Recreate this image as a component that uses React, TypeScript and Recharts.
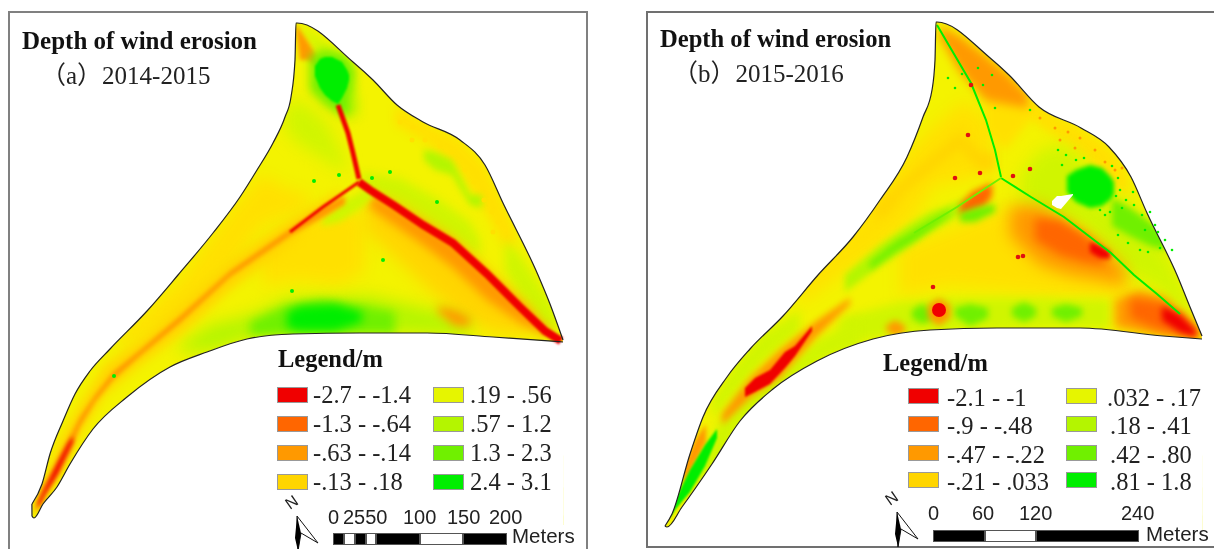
import React from "react"
import { Area, ComposedChart, Line, Scatter, XAxis, YAxis } from "recharts"

type Row = [number, number, number]
type Pt = [number, number]

const classColors = ["#f00000", "#ff6600", "#ff9900", "#ffd500", "#e6f500", "#b4f500", "#70f000", "#00ee00"]
const [RED, ORANGE_RED, ORANGE, GOLD, , LIME, LIGHT_GREEN, GREEN] = classColors
// the map raster sits a little brighter than the legend swatches
const BASE = "#f4f300"
const SOFT_GOLD = "#ffe000"
const SOFT_LIME = "#d0f500"

const legendA = ["-2.7 - -1.4", "-1.3 - -.64", "-.63 - -.14", "-.13 - .18", ".19 - .56", ".57 - 1.2", "1.3 - 2.3", "2.4 - 3.1"]
const legendB = ["-2.1 - -1", "-.9 - -.48", "-.47 - -.22", "-.21 - .033", ".032 - .17", ".18 - .41", ".42 - .80", ".81 - 1.8"]

// outlines in image pixels
const aUpper: Pt[] = [[32, 504], [42, 484], [50, 454], [63, 421], [75, 394], [90, 371], [110, 349], [147, 311], [178, 275], [213, 233], [240, 197], [257, 170], [273, 143], [285, 117], [291, 97], [295, 60], [296, 23], [297, 23], [353, 62], [373, 80], [397, 105], [423, 122], [460, 140], [485, 165], [503, 203], [538, 275], [550, 304], [563, 340]]
const aLower: Pt[] = [[31.9, 504], [32, 516], [34, 518], [43, 504], [57, 487], [70, 464], [93, 429], [127, 397], [170, 367], [207, 352], [247, 339], [293, 334], [360, 333], [427, 333], [493, 337], [563, 342]]
const bUpper: Pt[] = [[665, 526], [672, 514], [690, 454], [703, 417], [727, 377], [750, 349], [783, 316], [818, 275], [853, 237], [880, 200], [907, 157], [923, 117], [932, 90], [935, 60], [936, 22], [937, 22], [989, 57], [1009, 75], [1039, 107], [1081, 128], [1109, 147], [1131, 177], [1147, 213], [1177, 275], [1190, 307], [1202, 336]]
const bLower: Pt[] = [[664.9, 526], [667, 527], [682, 507], [712, 464], [740, 421], [773, 389], [817, 361], [873, 339], [930, 330], [997, 328], [1080, 328], [1163, 336], [1202, 339]]

// panel a patches: x, upper y, lower y
const aBase: Row[] = [[28, 20, 525], [566, 20, 525]]
const aWestGold: Row[] = [[120, 335, 350], [180, 280, 315], [235, 205, 262], [262, 175, 225], [290, 190, 215], [310, 195, 205]]
const aWestLime: Row[] = [[285, 105, 130], [300, 100, 145], [325, 120, 160], [345, 160, 174]]
const aTipOrange: Row[] = [[296, 24, 30], [300, 30, 60], [308, 42, 60], [316, 55, 65]]
const aTipLime: Row[] = [[300, 26, 30], [320, 38, 55], [350, 62, 100], [360, 100, 122]]
const aNeGold: Row[] = [[395, 106, 125], [423, 122, 140], [460, 140, 172], [485, 165, 212], [503, 203, 245], [515, 230, 250]]
const aNeLime: Row[] = [[424, 150, 160], [435, 152, 170], [452, 160, 175], [470, 195, 205], [482, 195, 208]]
const aEastLime: Row[] = [[362, 172, 182], [400, 178, 210], [440, 200, 234], [470, 222, 250], [480, 240, 258]]
const aTipGreen: Row[] = [[505, 240, 270], [520, 255, 298], [540, 285, 322], [556, 312, 336]]
const aSouthOrange: Row[] = [[365, 195, 230], [400, 205, 262], [430, 225, 290], [465, 250, 320], [495, 280, 332], [530, 310, 336]]
const aDeepOrange: Row[] = [[370, 192, 208], [423, 222, 245], [453, 240, 268], [487, 272, 300], [525, 305, 326], [550, 330, 338]]
const aMidGold: Row[] = [[262, 245, 285], [300, 222, 280], [340, 208, 285], [365, 218, 270]]
const aMidLime: Row[] = [[322, 218, 226], [340, 203, 222], [365, 190, 205], [373, 186, 196]]
const aBottomLime: Row[] = [[180, 345, 352], [210, 325, 351], [250, 315, 338], [290, 298, 334], [370, 296, 333], [410, 305, 333], [440, 312, 334], [470, 322, 336]]
const aBottomGreen: Row[] = [[250, 322, 335], [285, 306, 334], [320, 300, 333], [365, 306, 333], [395, 312, 333]]
const aBottomCore: Row[] = [[287, 312, 328], [300, 306, 331], [335, 304, 331], [362, 312, 322]]
const aBottomSpot: Row[] = [[438, 306, 312], [455, 310, 326], [470, 318, 326]]
const aBlob: Row[] = [[315, 66, 76], [320, 59, 88], [325, 57, 95], [332, 57, 101], [338, 60, 104], [342, 62, 98], [347, 70, 88], [349, 75, 80]]
const aBlobHalo: Row[] = [[310, 55, 90], [325, 50, 105], [345, 55, 118], [355, 70, 100], [350, 105, 125]]
const aStripGold: Row[] = [[35, 505, 516], [45, 480, 500], [60, 440, 475], [80, 405, 435], [105, 365, 395], [140, 340, 365], [180, 305, 335], [230, 260, 290], [290, 220, 245], [340, 190, 200]]
const aStripOrange: Row[] = [[35, 507, 514], [43, 487, 497], [55, 465, 480], [70, 436, 452], [80, 417, 427], [95, 395, 402], [113, 372, 380], [140, 350, 356], [180, 316, 323], [230, 271, 277], [290, 229, 236], [325, 205, 216], [345, 196, 204]]
const aStripRed: Row[] = [[38, 502, 509], [46, 486, 493], [58, 462, 473], [68, 443, 452], [73, 436, 442]]

const aNorthRed: Pt[] = [[338, 105], [348, 133], [353, 153], [359, 179]]
const aEastRed: Pt[] = [[359, 182], [370, 190], [395, 206], [423, 225], [453, 243], [487, 274], [520, 307], [545, 331], [561, 341]]
const aWestRed: Pt[] = [[359, 182], [323, 207], [290, 232]]
const aGreenDots: Pt[] = [[383, 260], [314, 181], [339, 175], [372, 178], [390, 172], [292, 291], [114, 376], [437, 202]]
const aGoldDots: Pt[] = [[400, 122], [413, 127], [425, 140], [440, 146], [452, 152], [465, 170], [474, 182], [484, 200], [492, 212], [498, 222], [493, 232], [412, 140]]

// panel b patches
const bBase: Row[] = [[662, 20, 530], [1206, 20, 530]]
const bWestGold: Row[] = [[800, 285, 305], [840, 240, 275], [875, 195, 250], [910, 150, 222], [935, 125, 185], [965, 100, 180], [990, 125, 170]]
const bWestOrange: Row[] = [[875, 205, 222], [890, 192, 212], [905, 178, 192], [960, 132, 148], [980, 152, 172], [995, 152, 170]]
const bTipOrange: Row[] = [[940, 26, 38], [960, 36, 72], [985, 55, 100], [1010, 76, 105], [1028, 95, 108]]
const bTipGold: Row[] = [[985, 90, 130], [1005, 95, 150], [1030, 100, 120], [1050, 112, 125]]
const bEdgeGold: Row[] = [[1040, 108, 125], [1081, 128, 155], [1109, 147, 178], [1128, 175, 200]]
const bLimeHalo: Row[] = [[1020, 175, 200], [1040, 150, 214], [1060, 145, 222], [1080, 155, 225], [1100, 205, 245], [1120, 195, 270], [1160, 240, 290], [1190, 300, 322]]
const bSprayGreen: Row[] = [[1112, 198, 226], [1130, 208, 236], [1150, 222, 246], [1166, 236, 250]]
const bBlob: Row[] = [[1067, 176, 192], [1076, 170, 202], [1090, 165, 208], [1102, 168, 206], [1110, 176, 200], [1114, 182, 194]]
const bSpokeLime: Row[] = [[845, 275, 292], [880, 245, 266], [910, 224, 246], [930, 212, 232], [952, 204, 220], [968, 198, 206]]
const bSpokeGreen: Row[] = [[870, 262, 270], [895, 242, 252], [915, 230, 240], [935, 218, 226], [950, 210, 214]]
const bJunctionOrange: Row[] = [[960, 205, 215], [972, 192, 212], [985, 186, 206], [992, 183, 196]]
const bSouthGold: Row[] = [[900, 250, 295], [950, 230, 285], [1000, 210, 290], [1050, 215, 295], [1110, 258, 295], [1130, 280, 298]]
const bSouthLime: Row[] = [[960, 213, 222], [975, 208, 222], [995, 204, 212]]
const bBigOrange: Row[] = [[1010, 206, 236], [1040, 205, 265], [1070, 225, 275], [1100, 245, 280], [1125, 268, 286]]
const bDeepOrange: Row[] = [[1035, 218, 240], [1060, 220, 255], [1085, 235, 262], [1105, 252, 265]]
const bRedZone: Row[] = [[1090, 242, 252], [1100, 246, 258], [1110, 252, 259]]
const bTipZone: Row[] = [[1115, 300, 327], [1140, 290, 332], [1165, 298, 336], [1198, 330, 338]]
const bTipDeep: Row[] = [[1130, 298, 318], [1160, 302, 330], [1185, 316, 336], [1198, 332, 338]]
const bTipRed: Row[] = [[1162, 306, 320], [1180, 315, 332], [1196, 331, 337]]
const bBottomLime: Row[] = [[840, 318, 345], [900, 302, 334], [960, 298, 330], [1040, 298, 328], [1110, 300, 328]]
const bPatchGreen1: Row[] = [[912, 310, 318], [922, 304, 324], [932, 310, 320]]
const bPatchGreen2: Row[] = [[955, 308, 316], [970, 304, 326], [988, 308, 318]]
const bPatchGreen3: Row[] = [[1012, 308, 316], [1024, 302, 322], [1036, 308, 316]]
const bPatchGreen4: Row[] = [[1052, 308, 316], [1066, 304, 322], [1082, 308, 316]]
const bBottomGold: Row[] = [[886, 326, 330], [895, 320, 336], [905, 326, 332]]
const bRedHalo: Row[] = [[928, 305, 318], [939, 298, 326], [950, 305, 318]]
const bLowerLime: Row[] = [[690, 470, 490], [715, 430, 470], [740, 390, 425], [780, 370, 392], [820, 338, 362], [860, 318, 345]]
const bUpperLime: Row[] = [[712, 400, 420], [735, 365, 392], [760, 335, 365], [800, 310, 330]]
const bStripOrange: Row[] = [[722, 414, 425], [750, 378, 398], [780, 350, 378], [815, 322, 338], [850, 298, 304]]
const bStripRed: Row[] = [[745, 388, 397], [755, 378, 392], [770, 370, 384], [785, 352, 368], [795, 346, 356], [812, 326, 331]]
const bLeafOrange: Row[] = [[683, 468, 486], [695, 440, 464], [706, 424, 442]]
const bLeaf: Row[] = [[670, 512, 518], [675, 500, 510], [690, 470, 492], [705, 445, 466], [717, 429, 438]]
const bHole: Row[] = [[1052, 201, 205], [1057, 196, 208], [1061, 196, 209], [1073, 194, 195]]

const bNorthGreen: Pt[] = [[937, 25], [971, 83], [986, 120], [995, 150], [1001, 177]]
const bEastGreen: Pt[] = [[1001, 178], [1031, 197], [1064, 217], [1111, 253], [1134, 275], [1157, 294], [1180, 314]]
const bWestGreen: Pt[] = [[1001, 178], [957, 207], [914, 233]]
const bRedDots: Pt[] = [[955, 178], [980, 173], [1013, 176], [1030, 169], [968, 135], [1018, 257], [1023, 256], [971, 85], [933, 287]]
const bLargeRed: Pt[] = [[939, 310]]
const bGreenSpecks: Pt[] = [[1058, 150], [1066, 155], [1076, 160], [1084, 158], [1062, 165], [1118, 178], [1120, 190], [1126, 200], [1134, 205], [1142, 215], [1155, 225], [1165, 240], [1118, 235], [1128, 243], [1140, 250], [1110, 212], [1116, 196], [1150, 212], [1158, 232], [1172, 250], [1148, 252], [1105, 215], [1100, 210], [1112, 166], [1122, 208], [1133, 192], [1145, 230], [1160, 248], [955, 88], [978, 68], [992, 75], [962, 74], [948, 78], [983, 85], [995, 108], [1030, 110]]
const bOrangeSpecks: Pt[] = [[1040, 118], [1055, 128], [1068, 132], [1060, 140], [1080, 138], [1095, 150], [1075, 148], [1105, 162], [1115, 170], [1122, 168]]

// scale bars: end of each segment, and labels
const scaleAStops = [333, 344, 355, 366, 376, 420, 463, 507]
const scaleBStops = [933, 985, 1036, 1139]
const scaleALabels: [string, number][] = [["0", 328], ["2550", 343], ["100", 403], ["150", 447], ["200", 489]]
const scaleBLabels: [string, number][] = [["0", 928], ["60", 972], ["120", 1019], ["240", 1121]]

const toBand = (rows: Row[]) => rows.map(([x, y0, y1]) => ({ x, band: [y0, y1] }))
const toPts = (pts: Pt[]) => pts.map(([x, y]) => ({ x, y }))

function band(key: string, rows: Row[], fill: string, blur = 3, curve = "linear") {
  return (
    <Area
      key={key}
      data={toBand(rows)}
      dataKey="band"
      type={curve as any}
      fill={fill}
      fillOpacity={1}
      stroke="none"
      dot={false}
      activeDot={false}
      className={`blur${blur}`}
      isAnimationActive={false}
    />
  )
}

function stroke(key: string, pts: Pt[], color: string, width: number, blur = 0, curve = "linear") {
  return (
    <Line
      key={key}
      data={toPts(pts)}
      dataKey="y"
      type={curve as any}
      stroke={color}
      strokeWidth={width}
      dot={false}
      activeDot={false}
      className={`blur${blur}`}
      isAnimationActive={false}
    />
  )
}

function dots(key: string, pts: Pt[], color: string, r: number) {
  return (
    <Scatter
      key={key}
      data={toPts(pts)}
      dataKey="y"
      fill={color}
      shape={(p: any) => <circle cx={p.cx} cy={p.cy} r={r} fill={color} />}
      isAnimationActive={false}
    />
  )
}

// white areas that trim the soft patches back to the map outline
function masks(key: string, upper: Pt[], lower: Pt[]) {
  const x0 = upper[0][0]
  const x1 = upper[upper.length - 1][0]
  const top: Row[] = upper.map(([x, y]) => [x, 14, y] as Row)
  const bottom: Row[] = lower.map(([x, y]) => [x, y, 536] as Row)
  // side pieces overlap the outline ends by a hair so no sliver of base colour shows
  const left: Row[] = [[x0 - 10, 14, 536], [x0 + 0.2, 14, 536]]
  const right: Row[] = [[x1 - 0.2, 14, 336], [x1 + 0.2, 14, 536], [x1 + 10, 14, 536]]
  return [
    band(`${key}-t`, top, "#ffffff", 0, "monotoneX"),
    band(`${key}-b`, bottom, "#ffffff", 0, "monotoneX"),
    band(`${key}-l`, left, "#ffffff", 0),
    band(`${key}-r`, right, "#ffffff", 0),
  ]
}

function Legend({ labels, x1, x2, textX1, textX2, head, rows, baseline }: any) {
  return (
    <>
      <div style={{ position: "absolute", left: head[0], top: head[1] - 21, fontFamily: "Liberation Serif", fontWeight: 700, fontSize: 24.5, lineHeight: "28px", color: "#111" }}>Legend/m</div>
      {labels.map((label: string, i: number) => {
        const col2 = i >= 4
        const row = i % 4
        return (
          <React.Fragment key={label}>
            <div style={{ position: "absolute", left: col2 ? x2 : x1, top: rows[row], width: 29, height: 14, background: classColors[i], outline: "1px solid #999", boxSizing: "border-box" }} />
            <div style={{ position: "absolute", left: col2 ? textX2[row] : textX1, top: rows[row] + baseline, fontFamily: "Liberation Serif", fontSize: 24.5, lineHeight: "28px", color: "#222", whiteSpace: "nowrap" }}>{label}</div>
          </React.Fragment>
        )
      })}
    </>
  )
}

function ScaleBar({ stops, labels, top, labelTop, meterX, meterTop }: any) {
  return (
    <>
      {stops.slice(0, -1).map((s: number, i: number) => (
        <div key={s} style={{ position: "absolute", left: s, top, width: stops[i + 1] - s, height: 12, background: i % 2 === 0 ? "#000" : "#fff", border: "1px solid #555", boxSizing: "border-box" }} />
      ))}
      {labels.map(([t, x]: [string, number]) => (
        <div key={t} style={{ position: "absolute", left: x, top: labelTop, fontFamily: "Liberation Sans", fontSize: 20, lineHeight: "24px", color: "#222" }}>{t}</div>
      ))}
      <div style={{ position: "absolute", left: meterX, top: meterTop, fontFamily: "Liberation Sans", fontSize: 20.5, lineHeight: "24px", color: "#222" }}>Meters</div>
    </>
  )
}

function NorthArrow({ x, y }: { x: number; y: number }) {
  return (
    <svg style={{ position: "absolute", left: x, top: y, overflow: "visible" }} width={40} height={50}>
      <polygon points="10,14 31,41 14,31 11,49" fill="#fff" stroke="#111" strokeWidth={1} />
      <polygon points="10,14 14,31 11,49 8,36" fill="#000" />
      <text x={0} y={0} transform="translate(3,8) rotate(-35)" fontFamily="Liberation Sans" fontSize={16} fill="#222">N</text>
    </svg>
  )
}

function Titles({ x, y, sub, subX, size }: any) {
  return (
    <>
      <div style={{ position: "absolute", left: x, top: y, fontFamily: "Liberation Serif", fontWeight: 700, fontSize: size, lineHeight: "28px", color: "#111", whiteSpace: "nowrap" }}>Depth of wind erosion</div>
      <div style={{ position: "absolute", left: subX, top: y + 35, fontFamily: "Liberation Serif, Noto Sans CJK SC", fontSize: 25, lineHeight: "28px", color: "#222", whiteSpace: "nowrap" }}>{sub}</div>
    </>
  )
}

export default function App() {
  return (
    <div style={{ position: "absolute", left: 0, top: 0, width: 1214, height: 549, background: "#fff", overflow: "hidden", filter: "blur(0.4px)" }}>
      <style>{`.blur0{} .blur1{filter:blur(1px)} .blur2{filter:blur(2px)} .blur3{filter:blur(3px)} .blur5{filter:blur(5px)} .blur8{filter:blur(8px)}`}</style>
      <ComposedChart width={1214} height={549} margin={{ top: 0, right: 0, bottom: 0, left: 0 }}>
        <XAxis hide type="number" dataKey="x" domain={[0, 1214]} allowDataOverflow />
        <YAxis hide type="number" reversed domain={[0, 549]} allowDataOverflow />

        {band("a0", aBase, BASE, 0)}
        {band("a1", aWestGold, SOFT_GOLD, 8)}
        {band("a2", aWestLime, SOFT_LIME, 8)}
        {band("a3", aTipLime, SOFT_LIME, 5)}
        {band("a4", aTipOrange, ORANGE, 2)}
        {band("a5", aNeGold, SOFT_GOLD, 5)}
        {band("a6", aNeLime, LIME, 3)}
        {band("a7", aEastLime, SOFT_LIME, 5)}
        {band("a8", aTipGreen, SOFT_LIME, 5)}
        {band("a9", aMidGold, SOFT_GOLD, 8)}
        {band("a10", aSouthOrange, GOLD, 8)}
        {band("a11", aDeepOrange, ORANGE, 5)}
        {band("a12", aMidLime, SOFT_LIME, 3)}
        {band("a13", aBottomLime, LIME, 8)}
        {band("a14", aBottomGreen, LIGHT_GREEN, 5)}
        {band("a15", aBottomCore, GREEN, 5)}
        {band("a16", aBottomSpot, ORANGE, 5)}
        {band("a17", aBlobHalo, LIGHT_GREEN, 5)}
        {band("a18", aBlob, GREEN, 1)}
        {band("a19", aStripGold, GOLD, 5)}
        {band("a20", aStripOrange, ORANGE, 2)}
        {band("a21", aStripRed, RED, 2)}
        {masks("am", aUpper, aLower)}

        {band("b0", bBase, BASE, 0)}
        {band("b1", bWestGold, SOFT_GOLD, 8)}
        {band("b2", bWestOrange, GOLD, 5)}
        {band("b3", bTipGold, SOFT_GOLD, 5)}
        {band("b4", bTipOrange, ORANGE, 5)}
        {band("b5", bEdgeGold, SOFT_GOLD, 5)}
        {band("b6", bSouthGold, SOFT_GOLD, 8)}
        {band("b7", bLimeHalo, SOFT_LIME, 8)}
        {band("b8", bSprayGreen, LIGHT_GREEN, 3)}
        {band("b9", bBlob, GREEN, 2)}
        {band("b10", bSpokeLime, LIME, 3)}
        {band("b11", bSpokeGreen, LIGHT_GREEN, 3)}
        {band("b12", bJunctionOrange, ORANGE_RED, 3)}
        {band("b13", bSouthLime, LIGHT_GREEN, 3)}
        {band("b14", bBigOrange, ORANGE, 8)}
        {band("b15", bDeepOrange, ORANGE_RED, 5)}
        {band("b16", bRedZone, RED, 2)}
        {band("b17", bBottomLime, SOFT_LIME, 5)}
        {band("b18", bPatchGreen1, LIGHT_GREEN, 3)}
        {band("b19", bPatchGreen2, LIGHT_GREEN, 3)}
        {band("b20", bPatchGreen3, LIGHT_GREEN, 3)}
        {band("b21", bPatchGreen4, LIGHT_GREEN, 3)}
        {band("b22", bBottomGold, ORANGE, 3)}
        {band("b23", bRedHalo, ORANGE, 3)}
        {band("b24", bTipZone, ORANGE, 5)}
        {band("b25", bTipDeep, ORANGE_RED, 5)}
        {band("b26", bTipRed, RED, 3)}
        {band("b27", bLowerLime, SOFT_LIME, 5)}
        {band("b28", bUpperLime, SOFT_LIME, 5)}
        {band("b29", bStripOrange, ORANGE, 3)}
        {band("b30", bStripRed, RED, 1)}
        {band("b31", bLeafOrange, ORANGE, 2)}
        {band("b32", bLeaf, GREEN, 1)}
        {masks("bm", bUpper, bLower)}
        {band("b33", bHole, "#ffffff", 0)}

        {stroke("as1", aNorthRed, RED, 5, 1)}
        {stroke("as2", aEastRed, RED, 8, 1)}
        {stroke("as3", aWestRed, RED, 3, 1)}
        {stroke("bs1", bNorthGreen, GREEN, 2)}
        {stroke("bs2", bEastGreen, GREEN, 2)}
        {stroke("bs3", bWestGreen, LIGHT_GREEN, 2)}
        {stroke("ao1", aUpper, "#222", 1.2, 0, "monotoneX")}
        {stroke("ao2", aLower, "#222", 1.2, 0, "monotoneX")}
        {stroke("bo1", bUpper, "#222", 1.2, 0, "monotoneX")}
        {stroke("bo2", bLower, "#222", 1.2, 0, "monotoneX")}
        {dots("ad", aGreenDots, GREEN, 2)}
        {dots("ag", aGoldDots, SOFT_GOLD, 2.5)}
        {dots("bd1", bGreenSpecks, GREEN, 1.3)}
        {dots("bd4", bOrangeSpecks, ORANGE, 1.5)}
        {dots("bd2", bRedDots, "#e01010", 2.3)}
        {dots("bd3", bLargeRed, RED, 7)}
      </ComposedChart>

      <div style={{ position: "absolute", left: 8, top: 11, width: 580, height: 560, border: "2px solid #808080", boxSizing: "border-box" }} />
      <div style={{ position: "absolute", left: 646, top: 11, width: 600, height: 537, border: "2px solid #707070", boxSizing: "border-box" }} />

      <Titles x={22} y={27} sub="（a）2014-2015" subX={41} size={25} />
      <Titles x={660} y={25} sub="（b）2015-2016" subX={673} size={24.6} />

      <Legend labels={legendA} x1={278} x2={434} textX1={313} textX2={[470, 470, 470, 470]} head={[278, 366]} rows={[388, 417, 446, 475]} baseline={-7} />
      <Legend labels={legendB} x1={909} x2={1067} textX1={947} textX2={[1107, 1110, 1110, 1110]} head={[883, 370]} rows={[389, 417, 446, 473]} baseline={-5} />

      <ScaleBar stops={scaleAStops} labels={scaleALabels} top={533} labelTop={505} meterX={512} meterTop={524} />
      <ScaleBar stops={scaleBStops} labels={scaleBLabels} top={530} labelTop={501} meterX={1146} meterTop={522} />
      <NorthArrow x={287} y={502} />
      <NorthArrow x={887} y={498} />
    </div>
  )
}
